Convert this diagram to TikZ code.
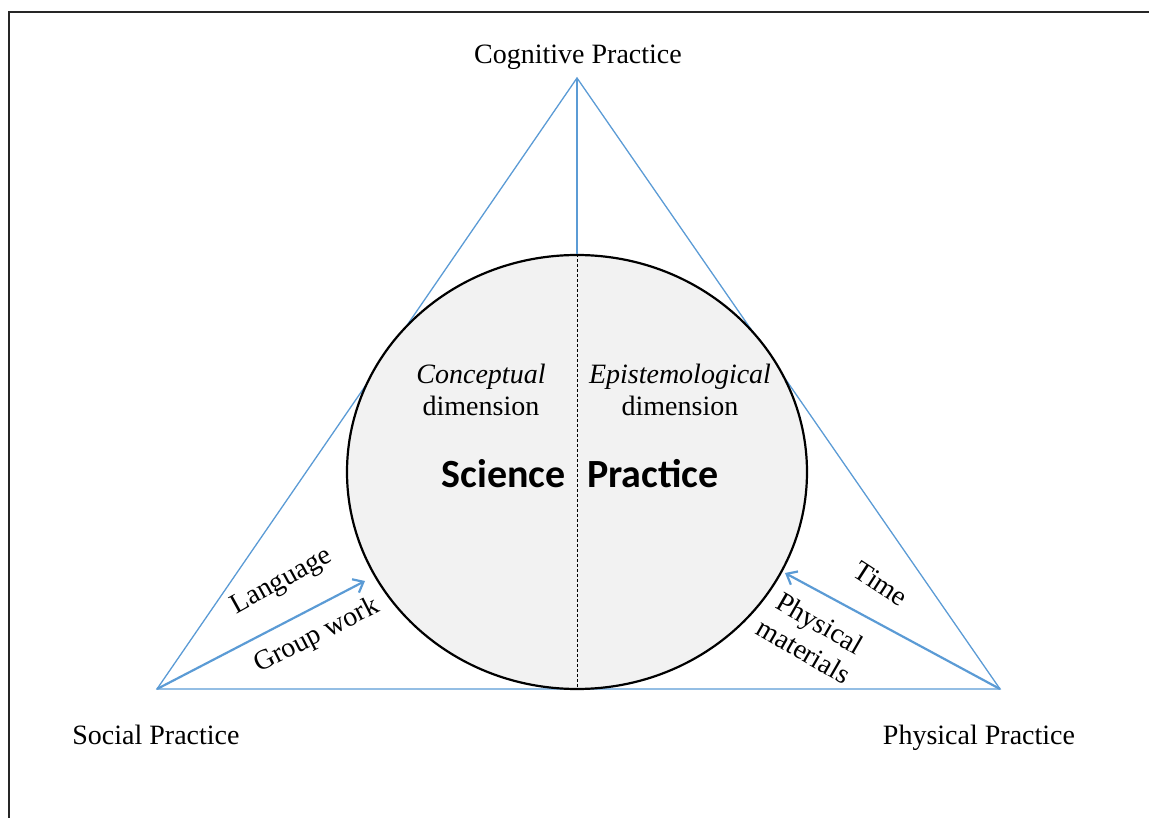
\documentclass[tikz,border=0pt]{standalone}
\usepackage{fontspec}
\setmainfont{Liberation Serif}
\newfontfamily\headfont{Carlito}
\usetikzlibrary{
  arrows.meta,
  shapes.geometric
}
\definecolor{triblue}{HTML}{5B9BD5}
\definecolor{discgray}{HTML}{F2F2F2}
\tikzset{
  side/.style={
    draw=triblue,
    line width=1.3pt},
  push/.style={
    draw=triblue,
    line width=2.2pt,
    -{Straight Barb[length=9pt,width=15pt]}},
  lbl/.style={
    inner sep=0pt,
    font=\fontsize{28}{32}\selectfont},
  dim/.style={
    lbl,
    align=center},
  big/.style={
    inner sep=0pt,
    font=\headfont\bfseries\fontsize{40}{44}\selectfont}
  }

\begin{document}
\begin{tikzpicture}[x=1pt,y=-1pt]
  \useasboundingbox (0,0) rectangle (1149,818);
  % frame
  \draw [line width=2pt, draw=black!85] (9,818) -- (9,12) -- (1149,12);
  % corners of the triangle
  \coordinate (cog) at (577,78);
  \coordinate (soc) at (157,689);
  \coordinate (phy) at (1000,689);
  \coordinate (gwtip) at (365,581);
  \coordinate (pmtip) at (785,573);
  \draw [side] (cog) -- (soc) -- (phy) -- cycle;
  \node (sci) [ellipse, draw=black, line width=2.2pt, fill=discgray,
    minimum width=460pt, minimum height=434pt, inner sep=0pt] at (577,472) {};
  \draw [side] (cog) -- (sci.north);
  \draw [line width=0.6pt, dash pattern=on 3pt off 2pt] (sci.north) -- (sci.south);
  \draw [push] (soc) -- (gwtip);
  \draw [push] (phy) -- (pmtip);
  % labels
  \node (coglbl) [lbl, anchor=base] at (578,64) {Cognitive Practice};
  \node (soclbl) [lbl, anchor=base] at (156,744) {Social Practice};
  \node (phylbl) [lbl, anchor=base] at (979,744) {Physical Practice};
  \node (concept) [dim] at (481,390) {\textit{Conceptual}\\dimension};
  \node (episte) [dim] at (680,390) {\textit{Epistemological}\\dimension};
  \node (science) [big, anchor=base east] at (566,487) {Science};
  \node (practice) [big, anchor=base west] at (587,487) {Practice};
  \node (lang) [lbl, rotate=29] at (282,582) {Language};
  \node (group) [lbl, rotate=27] at (317,636) {Group work};
  \node (time) [lbl, rotate=-33] at (881,584) {Time};
  \node (mater) [dim, rotate=-30] at (812,637) {Physical\\materials};
\end{tikzpicture}
\end{document}
